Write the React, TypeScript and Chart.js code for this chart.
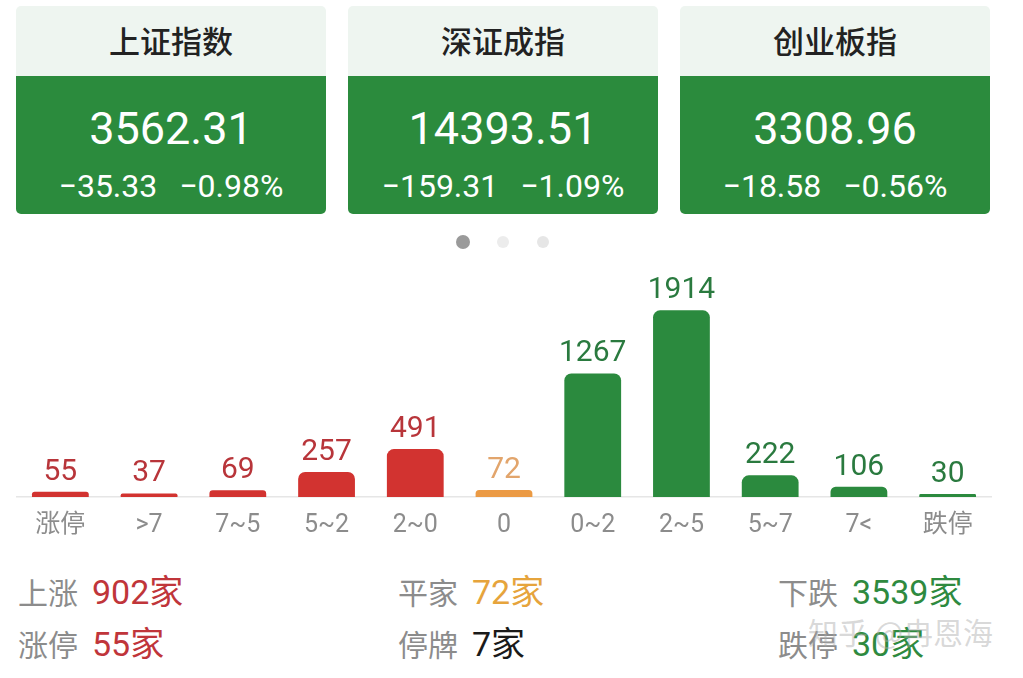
import React, { useEffect, useRef } from "react";
import { Chart, registerables } from "chart.js";

Chart.register(...registerables);

const categories = ["涨停", ">7", "7~5", "5~2", "2~0", "0", "0~2", "2~5", "5~7", "7<", "跌停"];
const counts = [55, 37, 69, 257, 491, 72, 1267, 1914, 222, 106, 30];
const barColors = ["#d23330", "#d23330", "#d23330", "#d23330", "#d23330", "#eb9a44", "#2b8a3e", "#2b8a3e", "#2b8a3e", "#2b8a3e", "#2b8a3e"];
const labelColors = ["#b8353a", "#b8353a", "#b8353a", "#b8353a", "#b8353a", "#e2a56c", "#2a7a3f", "#2a7a3f", "#2a7a3f", "#2a7a3f", "#2a7a3f"];

const indexNames = ["上证指数", "深证成指", "创业板指"];
const indexValues = ["3562.31", "14393.51", "3308.96"];
const indexChanges = ["−35.33", "−159.31", "−18.58"];
const indexPcts = ["−0.98%", "−1.09%", "−0.56%"];

const statRows = [
  [
    { k: "上涨", v: "902家", c: "#c0353a" },
    { k: "平家", v: "72家", c: "#e6a43c" },
    { k: "下跌", v: "3539家", c: "#2e8a3f" },
  ],
  [
    { k: "涨停", v: "55家", c: "#c0353a" },
    { k: "停牌", v: "7家", c: "#1a1a1a" },
    { k: "跌停", v: "30家", c: "#2e8a3f" },
  ],
];

const FONT = "Roboto, 'Noto Sans CJK SC', sans-serif";

const valueLabels = {
  id: "valueLabels",
  afterDatasetsDraw(chart: any) {
    const ctx = chart.ctx;
    const meta = chart.getDatasetMeta(0);
    ctx.save();
    ctx.font = `30px ${FONT}`;
    ctx.textAlign = "center";
    ctx.textBaseline = "alphabetic";
    meta.data.forEach((el: any, i: number) => {
      ctx.fillStyle = labelColors[i];
      ctx.fillText(String(counts[i]), el.x, el.y - 12);
    });
    ctx.restore();
  },
};

function BarChart() {
  const ref = useRef<HTMLCanvasElement>(null);
  useEffect(() => {
    if (!ref.current) return;
    const chart = new Chart(ref.current, {
      type: "bar",
      data: {
        labels: categories,
        datasets: [
          {
            data: counts,
            backgroundColor: barColors,
            borderRadius: { topLeft: 7, topRight: 7, bottomLeft: 0, bottomRight: 0 },
            borderSkipped: false,
            barPercentage: 0.64,
            categoryPercentage: 1,
          },
        ],
      },
      options: {
        animation: false,
        responsive: true,
        maintainAspectRatio: false,
        layout: { padding: 0 },
        plugins: { legend: { display: false }, tooltip: { enabled: false } },
        scales: {
          x: {
            grid: { display: false },
            border: { display: true, color: "#e6e6e6", width: 1.5 },
            ticks: { color: "#8c8c8c", font: { size: 25, family: FONT }, padding: 6, maxRotation: 0, autoSkip: false },
          },
          y: { display: false, min: 0, max: 2430 },
        },
      },
      plugins: [valueLabels],
    });
    return () => chart.destroy();
  }, []);
  return (
    <div style={{ position: "absolute", left: 16, top: 260, width: 976, height: 287 }}>
      <canvas ref={ref} />
    </div>
  );
}

export default function App() {
  return (
    <div style={{ position: "fixed", left: 0, top: 0, width: 1023, height: 678, background: "#fff", fontFamily: FONT, overflow: "hidden" }}>
      {indexNames.map((name, i) => (
        <div key={name} style={{ position: "absolute", left: 16 + i * 332, top: 6, width: 310, height: 208, borderRadius: 5, overflow: "hidden" }}>
          <div style={{ height: 70, background: "#eef5f0", display: "flex", alignItems: "center", justifyContent: "center", fontSize: 31, fontWeight: 500, color: "#222", fontFamily: "'Noto Sans CJK SC', sans-serif", paddingBottom: 4, boxSizing: "border-box" }}>
            {name}
          </div>
          <div style={{ height: 138, background: "#2b8b3d", color: "#fff", position: "relative" }}>
            <div style={{ position: "absolute", left: 0, right: 0, top: 27, textAlign: "center", fontSize: 45, lineHeight: "52px" }}>{indexValues[i]}</div>
            <div style={{ position: "absolute", left: 0, right: 0, top: 92, textAlign: "center", fontSize: 32, lineHeight: "36px" }}>
              {indexChanges[i]}
              <span style={{ display: "inline-block", width: 22 }} />
              {indexPcts[i]}
            </div>
          </div>
        </div>
      ))}
      <div style={{ position: "absolute", left: 456, top: 235, width: 14, height: 14, borderRadius: 7, background: "#9a9a9a" }} />
      <div style={{ position: "absolute", left: 497, top: 236, width: 12, height: 12, borderRadius: 6, background: "#ececec" }} />
      <div style={{ position: "absolute", left: 537, top: 236, width: 12, height: 12, borderRadius: 6, background: "#e6e6e6" }} />
      <BarChart />
      {statRows.map((row, r) =>
        row.map((s, c) => (
          <div key={`${r}-${c}`} style={{ position: "absolute", left: 18 + c * 380, top: 572 + r * 52, fontSize: 30, lineHeight: "38px", whiteSpace: "nowrap", fontFamily: "'Noto Sans CJK SC', sans-serif" }}>
            <span style={{ color: "#8c8c8c" }}>{s.k}</span>
            <span style={{ display: "inline-block", width: 14 }} />
            <span style={{ color: s.c, fontSize: 34, fontFamily: FONT }}>{s.v}</span>
          </div>
        ))
      )}
      <div style={{ position: "absolute", left: 808, top: 612, fontSize: 30, lineHeight: "38px", color: "rgba(170,170,170,0.45)", fontFamily: "'Noto Sans CJK SC', sans-serif", whiteSpace: "nowrap" }}>
        知乎 @冉恩海
      </div>
    </div>
  );
}
